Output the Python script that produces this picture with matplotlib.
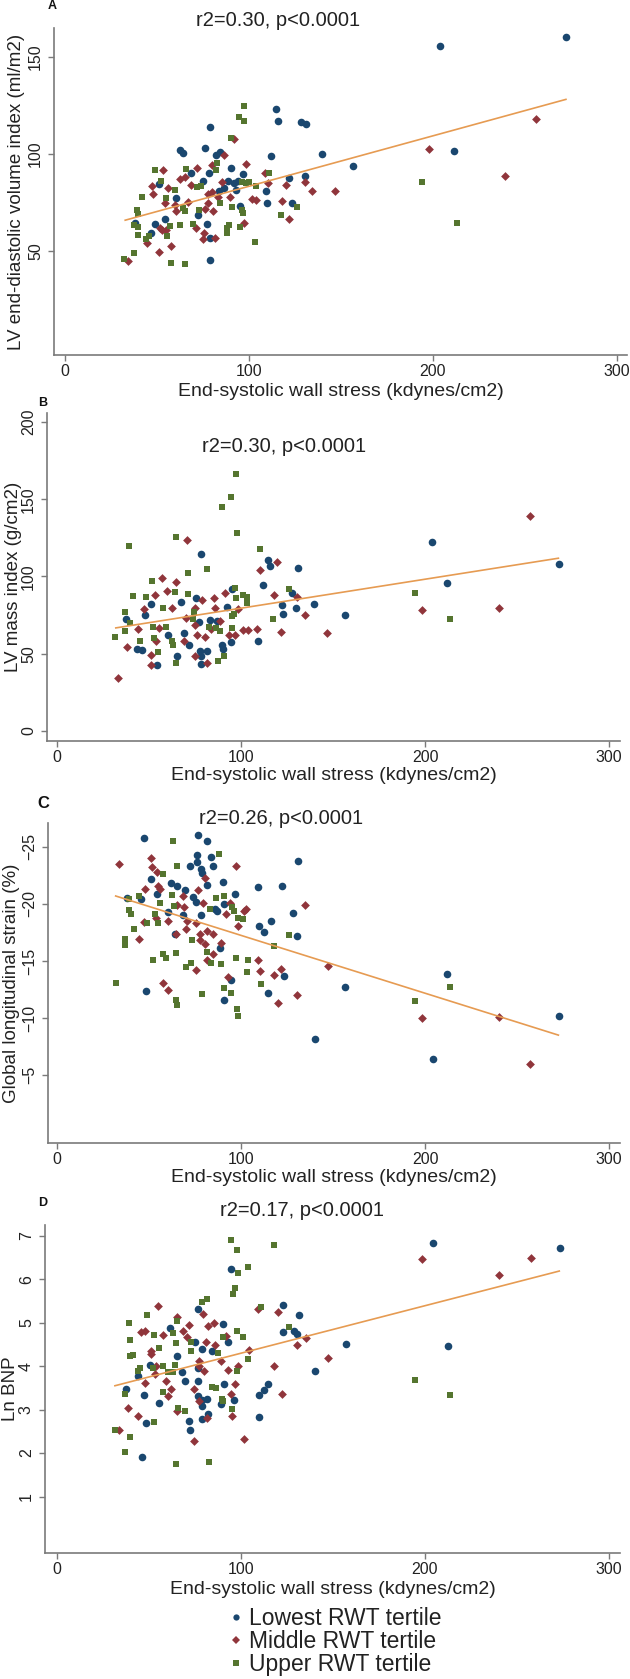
import matplotlib
matplotlib.use("Agg")
import matplotlib.pyplot as plt
from matplotlib.lines import Line2D
import numpy as np

plt.rcParams['font.family'] = ['Liberation Sans', 'DejaVu Sans']

W, H = 630, 1679

# ---------------- data ----------------
group_labels = ["Lowest RWT tertile", "Middle RWT tertile", "Upper RWT tertile"]
group_colors = ["#1a476f", "#90353b", "#55752f"]
group_markers = ["o", "D", "s"]
x_label = "End-systolic wall stress (kdynes/cm2)"
x_ticks = [0, 100, 200, 300]

# Panel A: LV end-diastolic volume index
a_low = [(203.6,155.9),(272.3,160.2),(114.6,123.4),(115.9,117.1),(128.1,116.4),(130.9,115.4),(78.6,113.7),
         (139.6,100),(156.7,94),(211.7,101.6),(62.4,101.9),(63.9,100.5),(76.2,103.3),(84,101),(81.8,99.3),
         (111.9,99.1),(90.3,92.7),(96.7,89.6),(74.8,86.3),(68.3,90.3),(78.3,90.1),(88.8,86),(91.6,85),
         (94.2,86),(86.4,82.5),(83.6,80.8),(92.7,81.7),(109.1,80.8),(109.6,74.9),(123.3,74.9),(122,87.5),
         (130.3,88.9),(60.4,77.3),(54.6,66.4),(48.7,64.2),(46.7,59.2),(38,64.7),(51.3,84.6),(72.4,68.7),
         (77,63.7),(78.8,56.7),(78.8,45.2),(95.3,73.4)]
a_mid = [(256.2,118),(197.7,102.4),(239.2,88.6),(92.1,108),(86.4,99.3),(98.6,95),(80.1,94.5),(71.6,92.7),
         (62.4,86.9),(65,88),(53.5,91.9),(47.1,83.7),(48,79.4),(55.9,82.4),(54.6,74.9),(59.6,73.9),(60.2,70.8),
         (66.8,75.1),(68.7,84.1),(77.5,79.4),(80.1,80.6),(85.5,85.5),(82.9,77.7),(77.9,74.7),(76.2,71.6),
         (80.7,70.8),(71.1,62.1),(75.3,59.2),(75,56.1),(81.4,56.9),(97.1,64.7),(89.7,77.7),(101.7,76.6),
         (103.9,76.5),(108.9,90.3),(110.6,85.3),(120,84.3),(117.8,75.6),(121.8,66.4),(130.3,85.8),(134.4,81),
         (146.6,81),(51.5,62.1),(52.6,61.1),(54.8,60.7),(44.7,54.3),(51.1,49.7),(57.8,52.8),(34,44.8)]
a_up = [(97.5,124.9),(94.7,119.2),(97.3,117),(90.1,108.5),(194,85.8),(213,64.4),(49.1,91.9),(65.5,92.4),
        (52.4,86.3),(41.7,77.7),(60,81.7),(54.8,77.3),(72,82.9),(74,83.7),(82.5,95.2),(81.8,92),(39.3,71.1),
        (39.5,69),(37.3,63.5),(39.9,62.5),(39.9,58.3),(44.1,56.1),(45.4,57.8),(55.6,57.6),(56.9,62.8),
        (62.4,63.3),(64.4,72),(65.2,70.8),(69.8,64.2),(72.9,71.1),(84.4,74.6),(87.9,62.1),(89.2,63.3),
        (95.1,62.5),(90.6,72.5),(96.4,71.1),(96.9,69.5),(96.4,85.5),(98.2,84.9),(100.2,85.5),(103.9,83.6),
        (110.8,90.1),(117.6,68.7),(126.3,72.5),(103.2,54.8),(87.9,59.2),(37.5,49.1),(32.1,46),(57.8,43.9),
        (65,43.1)]
a_fit = [(32.7, 65.9), (272.3, 128.2)]

# Panel B: LV mass index
b_low = [(204,122.2),(212.1,95.6),(273,108.1),(78,114.4),(114.7,110.5),(115.8,106.8),(130.8,105.7),
         (111.9,94.3),(94.9,92.1),(127.9,89.5),(122.4,81.3),(130.1,79.7),(139.8,82.3),(122.6,75.8),(156.7,75),
         (109.2,58.1),(92.5,80.2),(75.6,86),(67.5,83.6),(50.8,81.9),(47.7,75),(37.6,72.6),(43.3,53.3),
         (45.9,52.2),(54.5,42.5),(60.4,62.4),(65,48.8),(69,63.1),(71.9,55.5),(77.6,52),(78,48.3),(78,43.3),
         (81.3,51.6),(83.1,71.5),(86.8,71.1),(89.5,55.5),(90.3,52.9),(94.7,57.4),(77.4,70.2)]
b_mid = [(257.1,138.9),(198.2,78.4),(240,79.3),(70.8,123.3),(119.8,109.6),(110.1,104.2),(117.8,87.8),
         (130.3,86.9),(134.5,75),(146.8,63.5),(121.5,64.1),(108.8,66.1),(100.9,65.4),(103.5,65.4),(57.1,98.8),
         (64.6,96.6),(60,90.6),(53,88.2),(62.5,79.7),(47.3,78.7),(44,66.1),(38,54.4),(33.2,34.2),(50.8,49.4),
         (50.8,42.9),(53.8,58.1),(55.4,66.7),(68.8,58.5),(69.9,73.2),(75.2,79.5),(78.7,84.5),(75,68.9),
         (75.8,62.4),(80.2,60.7),(75.2,48.3),(81.3,44),(85.1,86.2),(88.6,71.1),(91.2,89.5),(93.6,62.4),
         (96.9,62),(98.5,78.7),(85.7,79.3),(83.5,65.7)]
b_up = [(97.4,166.6),(94.5,151.2),(89.9,144.7),(98,128.1),(64.6,125.7),(39.1,119.8),(110.3,117.7),
        (71.4,102.1),(81.5,104.7),(51.6,96.9),(64,90.1),(71.4,88.8),(41.1,87.3),(48.2,86.9),(96.9,92.3),
        (97.1,86.2),(101.1,88),(103.1,86.7),(103.1,83),(126,91.7),(194.7,89.1),(213.6,72.2),(117.6,72.2),
        (36.7,77.1),(39.6,70),(36.7,65),(31.4,61.1),(57.4,79.7),(52.1,67.2),(52.7,60.2),(55.1,50.9),
        (59.1,67.2),(62.4,58.1),(63,55.5),(64.4,44),(45.3,58.1),(74.1,72.2),(82.4,67.4),(86.2,66.7),
        (88.6,64.6),(95.2,74.3),(95.2,66.7),(87.5,45.5),(90.5,48.3),(96,75.8),(74.5,77.1)]
b_fit = [(31.9, 66.7), (272.5, 111.8)]

# Panel C: Global longitudinal strain
c_low = [(76.8,-26.05),(47.2,-25.8),(81.6,-25.5),(76.1,-24.3),(83.4,-24.1),(76.1,-23.7),(84.7,-23.3),
         (131,-23.8),(72.2,-23.3),(78.3,-23.1),(79,-22.7),(51.1,-22.2),(90.4,-21.9),(61.9,-21.8),(65.4,-21.6),
         (81.6,-21.7),(109.1,-21.5),(122.4,-21.6),(69.6,-21.2),(54.2,-20.9),(96.6,-20.9),(74,-20.6),
         (75.7,-20.2),(45.4,-20.4),(38.2,-20.5),(86,-19.6),(87.1,-19.4),(90.6,-20),(60.3,-19.3),(128.4,-19.2),
         (78.3,-19),(68.2,-19),(109.5,-18.1),(116.1,-18.5),(112.3,-17.5),(130.3,-17.2),(64.3,-17.4),
         (88.7,-16.1),(123.3,-13.7),(94.4,-13.3),(114.8,-12.2),(90.6,-11.6),(48.3,-12.4),(156.7,-12.7),
         (212.2,-13.9),(273,-10.2),(140,-8.2),(204.1,-6.4)]
c_mid = [(33.6,-23.5),(50.9,-24),(51.4,-23.2),(54.2,-22.8),(97,-23.3),(80.5,-22.3),(54.9,-21.6),(56,-21.3),
         (48,-21.3),(76.5,-21.2),(68.2,-20.7),(65.1,-19.9),(68.9,-19.7),(79.4,-20.1),(134.7,-19.9),
         (102.9,-19.6),(101.4,-19.4),(91.9,-19.1),(93.7,-20.1),(53.5,-18.8),(60.1,-18.5),(47,-18.4),
         (70.6,-18.5),(75.5,-18.3),(98.5,-18.1),(70,-17.8),(77.9,-17.4),(81.2,-17.6),(84.9,-17.4),(64.5,-17.4),
         (44.6,-16.9),(77.4,-16.8),(80.1,-16.5),(89.3,-16.6),(84.9,-15.6),(81.6,-15.1),(109.1,-15.1),
         (110.2,-14.1),(75.7,-14.2),(92.8,-13.6),(57.5,-13.1),(60.3,-12.5),(121.8,-14.3),(118,-13.8),
         (120,-11.3),(130.6,-12),(147,-14.6),(198.4,-10),(240.1,-10.1),(257.2,-6)]
c_up = [(63.2,-25.5),(88,-24.4),(65.4,-23.3),(57.5,-22.6),(38.8,-20.4),(44.3,-20.7),(55.9,-20.1),(63.6,-19.8),
        (62.3,-20.8),(86.2,-20.5),(90.8,-20.7),(82.9,-19.6),(95.2,-19.7),(96.3,-19.4),(39.3,-19.5),
        (40.1,-19.1),(53.1,-19.1),(48.7,-18.3),(54.6,-18.3),(98.1,-18.8),(100.9,-18.7),(41.7,-17.8),
        (37.1,-16.9),(37.1,-16.6),(37.1,-16.4),(73.5,-16.8),(117.8,-16.3),(126.2,-17.3),(64.7,-15.7),
        (57.5,-15.6),(59,-15.3),(81.6,-15.8),(52.2,-15.1),(97.4,-15.3),(104,-15.1),(72.8,-14.8),(69.8,-14.5),
        (83.4,-14.8),(88.9,-14.7),(103.4,-14),(110.8,-13),(90.6,-12.6),(94.6,-12.2),(78.8,-12.1),(64.5,-11.6),
        (64.9,-11.1),(97.7,-10.8),(98.3,-10.2),(31.8,-13.1),(194.6,-11.5),(213.7,-12.7)]
c_fit = [(31.8, -20.7), (272.5, -8.5)]

# Panel D: Ln BNP
d_low = [(204.5,6.83),(273.3,6.73),(94.8,6.24),(76.9,5.31),(122.6,5.41),(131.4,5.17),(61.7,4.89),(90.2,4.97),
         (123.1,4.78),(129,4.8),(130.7,4.74),(157,4.51),(212.4,4.46),(74.9,4.55),(92.8,4.56),(78.8,4.4),
         (84.3,4.34),(65.5,4.24),(50.8,4.02),(67.9,3.86),(43.8,3.77),(76.4,3.95),(140.1,3.89),(69.6,3.65),
         (76.4,3.65),(37.7,3.48),(47.5,3.34),(55.2,3.15),(76.6,3.32),(78.6,3.22),(81.7,3.24),(90.7,3.58),
         (89.1,3.14),(96.3,3.22),(109.9,3.34),(112.3,3.45),(114.7,3.58),(78.8,3.09),(81.9,2.91),(78.6,2.79),
         (109.7,2.83),(48.4,2.69),(72,2.74),(72.5,2.52),(46.2,1.9)]
d_mid = [(198.6,6.47),(257.5,6.49),(240.4,6.09),(54.7,5.39),(109,5.31),(120.2,5.25),(65.5,5.14),(79.3,5.2),
         (71.6,4.95),(85.2,5.0),(82.2,4.93),(68.5,4.82),(45.8,4.78),(47.9,4.8),(57.6,4.72),(70.7,4.68),
         (80.8,4.56),(51.3,4.34),(51,4.29),(91.7,4.7),(86.1,4.49),(104.2,4.38),(135.1,4.64),(130.7,4.48),
         (147.4,4.19),(77.3,4.13),(89.2,4.11),(77.1,4.0),(118,4.0),(98.3,4.0),(53.7,4.01),(80,3.89),(92.8,3.91),
         (53.5,3.83),(59.3,3.65),(48,3.61),(62.2,3.47),(74.4,3.47),(60.2,3.32),(97,3.58),(94.4,3.36),
         (122.2,3.36),(77.3,3.2),(38.5,3.04),(65,2.96),(44.2,2.86),(95.2,2.85),(81.5,2.81),(33.7,2.54),
         (74.7,2.28),(101.8,2.33)]
d_up = [(94.8,6.9),(117.8,6.79),(97.9,6.68),(98.5,6.14),(103.6,6.29),(97,5.81),(95.9,5.67),(81.7,5.54),
        (78.8,5.47),(111,5.36),(48.8,5.17),(39.4,4.99),(65.3,5.05),(39.9,4.61),(52.8,4.71),(62.8,4.76),
        (97.6,4.82),(101.2,4.68),(126.3,4.9),(72.7,4.55),(73.1,4.36),(64.8,4.53),(55.6,4.42),(90.2,4.68),
        (87.4,4.3),(39.9,4.24),(41.4,4.25),(104,4.17),(45.3,3.95),(44.2,3.89),(52.4,3.96),(57.4,4.0),
        (63.9,4.02),(60.2,3.86),(62.8,3.86),(97.9,3.89),(37.2,3.36),(57.8,3.41),(84.1,3.52),(86.3,3.49),
        (89.6,3.24),(90.5,3.2),(95.2,3.01),(65.7,3.04),(69.6,2.96),(53,2.71),(31.5,2.52),(39.9,2.38),(37,2.03),
        (64.8,1.74),(82.8,1.79),(194.7,3.68),(213.7,3.34)]
d_fit = [(31.5, 3.55), (273, 6.19)]

panel_letters = ["A", "B", "C", "D"]
panel_titles = ["r2=0.30, p<0.0001", "r2=0.30, p<0.0001", "r2=0.26, p<0.0001", "r2=0.17, p<0.0001"]
y_labels = ["LV end-diastolic volume index (ml/m2)", "LV mass index (g/cm2)",
            "Global longitudinal strain (%)", "Ln BNP"]
y_ticks_list = [[50, 100, 150], [0, 50, 100, 150, 200], [-25, -20, -15, -10, -5], [1, 2, 3, 4, 5, 6, 7]]

# ---------------- layout (pixels) ----------------
panels = [
    dict(groups=[a_low, a_mid, a_up], fit=a_fit, box=(54, 28, 627, 355), xlim=(-6, 305.5), ylim=(-3.6, 165),
         letter=(52, 6), title=(278, 21), ylab_x=17, xlab_y=392),
    dict(groups=[b_low, b_mid, b_up], fit=b_fit, box=(47, 413, 620, 741), xlim=(-5.5, 306), ylim=(-6.5, 205.8),
         letter=(43, 403), title=(284, 447), ylab_x=14, xlab_y=776),
    dict(groups=[c_low, c_mid, c_up], fit=c_fit, box=(48, 823, 620, 1143), xlim=(-5, 306), ylim=(0.96, -27.1),
         letter=(43, 803), title=(281, 819), ylab_x=12, xlab_y=1178),
    dict(groups=[d_low, d_mid, d_up], fit=d_fit, box=(45, 1225, 620, 1553), xlim=(-6.5, 306), ylim=(-0.3, 7.25),
         letter=(43, 1203), title=(302, 1210), ylab_x=11, xlab_y=1589),
]

spine_col = "#7a7a7a"
fit_col = "#e69b52"
marker_sizes = {"o": 30, "D": 20, "s": 24}

fig = plt.figure(figsize=(W / 100, H / 100), dpi=100)

for i, p in enumerate(panels):
    l, t, r, b = p["box"]
    ax = fig.add_axes([l / W, 1 - b / H, (r - l) / W, (b - t) / H])
    for pts, col, mk in zip(p["groups"], group_colors, group_markers):
        xs, ys = zip(*pts)
        ax.scatter(xs, ys, s=marker_sizes[mk], c=col, marker=mk, linewidths=0, zorder=3)
    fx, fy = zip(*p["fit"])
    ax.plot(fx, fy, color=fit_col, lw=1.2, zorder=4)
    ax.set_xlim(*p["xlim"])
    ax.set_ylim(*p["ylim"])
    ax.set_xticks(x_ticks)
    ax.set_yticks(y_ticks_list[i])
    for s in ["top", "right"]:
        ax.spines[s].set_visible(False)
    for s in ["left", "bottom"]:
        ax.spines[s].set_color(spine_col)
        ax.spines[s].set_linewidth(1.2)
    ax.tick_params(axis="both", direction="out", length=4.5, width=1.0, color=spine_col,
                   labelsize=11.5, labelcolor="#222222")
    ax.tick_params(axis="x", pad=2)
    ax.tick_params(axis="y", labelrotation=90, pad=3.5)
    plt.setp(ax.get_yticklabels(), va="center")
    ax.patch.set_alpha(0)

    ax.set_xlabel(x_label, fontsize=14, color="#222222")
    ax.xaxis.set_label_coords(0.5, -(p["xlab_y"] - b) / (b - t))
    ax.xaxis.label.set_va("center")
    ax.set_ylabel(y_labels[i], fontsize=13.5, color="#222222")
    ax.yaxis.set_label_coords((p["ylab_x"] - l) / (r - l), 0.5)
    ax.yaxis.label.set_va("center")

    lx, ly = p["letter"]
    fig.text(lx / W, 1 - ly / H, panel_letters[i], fontsize=9 if panel_letters[i] != "C" else 12,
             fontweight="bold", ha="center", va="center", color="#111111")
    tx, ty = p["title"]
    fig.text(tx / W, 1 - ty / H, panel_titles[i], fontsize=14.5, ha="center", va="center", color="#222222")

handles = [Line2D([], [], linestyle="none", marker=m, color=c, markersize=ms, markeredgewidth=0)
           for m, c, ms in zip(group_markers, group_colors, [4.5, 3.8, 3.8])]
fig.legend(handles, group_labels, loc="upper left", bbox_to_anchor=(231 / W, 1 - 1607 / H),
           frameon=False, fontsize=16.5, handlelength=0.45, handletextpad=0.35, labelspacing=0.0,
           borderaxespad=0, borderpad=0, labelcolor="#222222")

fig.savefig("out.png", dpi=100)
